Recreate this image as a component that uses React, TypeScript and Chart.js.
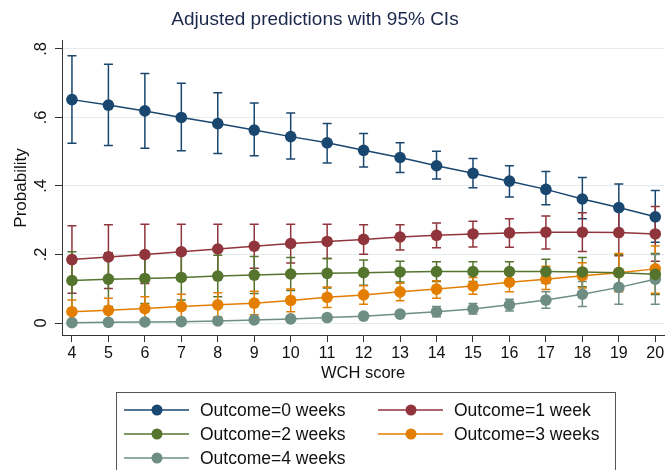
import React, { useEffect, useRef } from "react";
import { Chart, registerables } from "chart.js";

Chart.register(...registerables);

const wchScores = [4, 5, 6, 7, 8, 9, 10, 11, 12, 13, 14, 15, 16, 17, 18, 19, 20];
const yTickValues = [0, 0.2, 0.4, 0.6, 0.8];
const yTickLabels = ["0", ".2", ".4", ".6", ".8"];

const seriesNames = ["Outcome=0 weeks", "Outcome=1 week", "Outcome=2 weeks", "Outcome=3 weeks", "Outcome=4 weeks"];
const seriesColors = ["#1a476f", "#90353b", "#55752f", "#e37e00", "#6e8e84"];

const p0 = [0.652, 0.636, 0.619, 0.600, 0.582, 0.563, 0.544, 0.526, 0.504, 0.483, 0.459, 0.437, 0.414, 0.390, 0.362, 0.337, 0.310];
const hi0 = [0.780, 0.755, 0.728, 0.700, 0.672, 0.642, 0.613, 0.582, 0.553, 0.526, 0.501, 0.480, 0.459, 0.442, 0.425, 0.406, 0.387];
const lo0 = [0.525, 0.518, 0.510, 0.503, 0.495, 0.488, 0.479, 0.467, 0.455, 0.439, 0.420, 0.395, 0.368, 0.345, 0.304, 0.268, 0.236];

const p1 = [0.185, 0.193, 0.200, 0.208, 0.216, 0.224, 0.232, 0.238, 0.244, 0.251, 0.256, 0.260, 0.263, 0.265, 0.265, 0.264, 0.260];
const hi1 = [0.284, 0.287, 0.288, 0.288, 0.288, 0.288, 0.288, 0.288, 0.287, 0.287, 0.292, 0.297, 0.304, 0.312, 0.322, 0.332, 0.340];
const lo1 = [0.087, 0.101, 0.115, 0.128, 0.142, 0.160, 0.175, 0.188, 0.201, 0.213, 0.220, 0.222, 0.221, 0.216, 0.209, 0.196, 0.180];

const p2 = [0.124, 0.128, 0.130, 0.133, 0.137, 0.140, 0.143, 0.145, 0.147, 0.149, 0.150, 0.150, 0.150, 0.150, 0.149, 0.147, 0.142];
const hi2 = [0.208, 0.205, 0.203, 0.200, 0.198, 0.194, 0.191, 0.188, 0.184, 0.180, 0.179, 0.179, 0.179, 0.186, 0.191, 0.199, 0.203];
const lo2 = [0.040, 0.048, 0.057, 0.067, 0.077, 0.086, 0.095, 0.102, 0.110, 0.120, 0.121, 0.121, 0.121, 0.116, 0.106, 0.094, 0.083];

const p3 = [0.033, 0.037, 0.042, 0.048, 0.053, 0.058, 0.066, 0.075, 0.082, 0.091, 0.099, 0.108, 0.119, 0.128, 0.138, 0.147, 0.158];
const hi3 = [0.067, 0.072, 0.077, 0.084, 0.088, 0.093, 0.099, 0.105, 0.109, 0.116, 0.123, 0.133, 0.145, 0.166, 0.176, 0.203, 0.225];
const lo3 = [0.002, 0.003, 0.007, 0.013, 0.018, 0.024, 0.033, 0.045, 0.055, 0.065, 0.072, 0.084, 0.091, 0.098, 0.102, 0.091, 0.087];

const p4 = [0.001, 0.002, 0.003, 0.004, 0.006, 0.009, 0.012, 0.016, 0.020, 0.026, 0.033, 0.041, 0.053, 0.067, 0.084, 0.104, 0.128];
const hi4 = [0.002, 0.003, 0.005, 0.007, 0.009, 0.013, 0.017, 0.022, 0.028, 0.033, 0.048, 0.057, 0.069, 0.091, 0.121, 0.150, 0.200];
const lo4 = [0.000, 0.001, 0.001, 0.002, 0.003, 0.005, 0.007, 0.010, 0.013, 0.020, 0.018, 0.026, 0.035, 0.043, 0.048, 0.055, 0.055];

const estimates = [p0, p1, p2, p3, p4];
const upper = [hi0, hi1, hi2, hi3, hi4];
const lower = [lo0, lo1, lo2, lo3, lo4];

const FONT = '"Liberation Sans", Arial, Helvetica, sans-serif';

const errorBarPlugin = {
  id: "errorBars",
  beforeDatasetsDraw(chart: any) {
    const ctx = chart.ctx;
    const xs = chart.scales.x;
    const ys = chart.scales.y;
    ctx.save();
    ctx.lineWidth = 1.5;
    for (let s = 0; s < estimates.length; s++) {
      ctx.strokeStyle = seriesColors[s];
      for (let i = 0; i < wchScores.length; i++) {
        const x = xs.getPixelForValue(wchScores[i]);
        const yl = ys.getPixelForValue(lower[s][i]);
        const yh = ys.getPixelForValue(upper[s][i]);
        ctx.beginPath();
        ctx.moveTo(x, yl);
        ctx.lineTo(x, yh);
        ctx.moveTo(x - 4.5, yl);
        ctx.lineTo(x + 4.5, yl);
        ctx.moveTo(x - 4.5, yh);
        ctx.lineTo(x + 4.5, yh);
        ctx.stroke();
      }
    }
    ctx.restore();
  },
};

const decorPlugin = {
  id: "decor",
  afterDraw(chart: any) {
    const ctx = chart.ctx;
    const ys = chart.scales.y;
    const area = chart.chartArea;
    ctx.save();
    // title
    ctx.fillStyle = "#1a284c";
    ctx.font = `19px ${FONT}`;
    ctx.textAlign = "center";
    ctx.textBaseline = "middle";
    ctx.fillText("Adjusted predictions with 95% CIs", 315, 20);

    // y tick labels (rotated)
    ctx.fillStyle = "#111";
    ctx.font = `16.5px ${FONT}`;
    for (let i = 0; i < yTickValues.length; i++) {
      const y = ys.getPixelForValue(yTickValues[i]);
      ctx.save();
      ctx.translate(41, y);
      ctx.rotate(-Math.PI / 2);
      ctx.textAlign = "center";
      ctx.textBaseline = "middle";
      ctx.fillText(yTickLabels[i], 0, 0);
      ctx.restore();
    }
    // y axis title
    ctx.save();
    ctx.translate(21, 188);
    ctx.rotate(-Math.PI / 2);
    ctx.textAlign = "center";
    ctx.textBaseline = "middle";
    ctx.font = `17px ${FONT}`;
    ctx.fillText("Probability", 0, 0);
    ctx.restore();

    // x axis title
    ctx.textAlign = "center";
    ctx.textBaseline = "middle";
    ctx.font = `16.5px ${FONT}`;
    ctx.fillText("WCH score", (area.left + area.right) / 2, 373);

    // legend
    ctx.strokeStyle = "#555";
    ctx.lineWidth = 1;
    ctx.strokeRect(116.5, 392.5, 499, 120);
    const rows = [410, 434, 458];
    const cols = [
      { l0: 124, l1: 189, m: 157, t: 200 },
      { l0: 378, l1: 443, m: 411, t: 454 },
    ];
    for (let s = 0; s < seriesNames.length; s++) {
      const r = rows[Math.floor(s / 2)];
      const c = cols[s % 2];
      ctx.strokeStyle = seriesColors[s];
      ctx.lineWidth = 1.5;
      ctx.beginPath();
      ctx.moveTo(c.l0, r);
      ctx.lineTo(c.l1, r);
      ctx.stroke();
      ctx.fillStyle = seriesColors[s];
      ctx.beginPath();
      ctx.arc(c.m, r, 5.5, 0, Math.PI * 2);
      ctx.fill();
      ctx.fillStyle = "#111";
      ctx.textAlign = "left";
      ctx.textBaseline = "middle";
      ctx.font = `17.5px ${FONT}`;
      ctx.fillText(seriesNames[s], c.t, r + 1);
    }
    ctx.restore();
  },
};

export default function App() {
  const ref = useRef<HTMLCanvasElement | null>(null);
  useEffect(() => {
    if (!ref.current) return;
    const datasets = estimates.map((vals, s) => ({
      label: seriesNames[s],
      data: wchScores.map((x, i) => ({ x, y: vals[i] })),
      borderColor: seriesColors[s],
      backgroundColor: seriesColors[s],
      pointBackgroundColor: seriesColors[s],
      pointBorderWidth: 0,
      pointRadius: 5.8,
      borderWidth: 1.5,
      tension: 0,
      fill: false,
    }));
    const chart = new Chart(ref.current, {
      type: "line",
      data: { datasets },
      options: {
        animation: false,
        responsive: false,
        maintainAspectRatio: false,
        devicePixelRatio: 1,
        layout: { padding: { top: 40, right: 2, bottom: 86, left: 0 } },
        plugins: {
          legend: { display: false },
          title: { display: false },
          tooltip: { enabled: false },
        },
        scales: {
          x: {
            type: "linear",
            min: 3.727,
            max: 20.245,
            afterBuildTicks: (scale: any) => {
              scale.ticks = wchScores.map((v) => ({ value: v }));
            },
            afterFit: (scale: any) => {
              scale.height = 49;
            },
            ticks: {
              color: "#111",
              font: { family: FONT, size: 16 },
              padding: 2,
              maxRotation: 0,
              autoSkip: false,
              callback: (v: any) => String(v),
            },
            grid: {
              drawOnChartArea: false,
              tickLength: 7,
              tickColor: "#333",
              tickWidth: 1,
            },
            border: { color: "#333", width: 1 },
          },
          y: {
            type: "linear",
            min: -0.035,
            max: 0.826,
            afterBuildTicks: (scale: any) => {
              scale.ticks = yTickValues.map((v) => ({ value: v }));
            },
            afterFit: (scale: any) => {
              scale.width = 62;
            },
            ticks: { display: false },
            grid: {
              color: "#e3ebef",
              lineWidth: 1,
              tickLength: 7,
              tickColor: "#333",
              tickWidth: 1,
            },
            border: { color: "#333", width: 1 },
          },
        },
      },
      plugins: [errorBarPlugin, decorPlugin],
    });
    return () => chart.destroy();
  }, []);
  return (
    <div style={{ position: "absolute", left: 0, top: 0, width: 670, height: 470, background: "#fff" }}>
      <canvas ref={ref} width={670} height={470} style={{ width: 670, height: 470, display: "block" }} />
    </div>
  );
}
